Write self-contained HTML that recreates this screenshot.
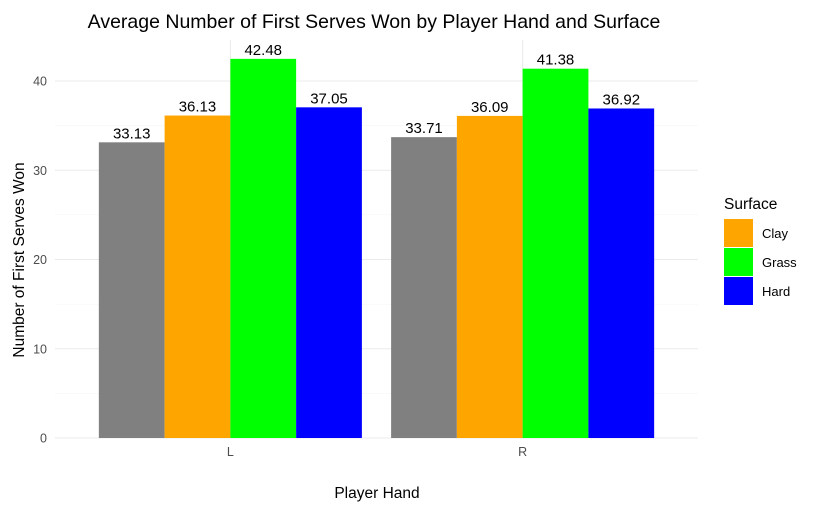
<!DOCTYPE html>
<html><head><meta charset="utf-8"><style>
body{margin:0;background:#fff;font-family:"Liberation Sans",sans-serif}
</style></head><body>
<svg width="822" height="512" xmlns="http://www.w3.org/2000/svg" font-family="Liberation Sans, sans-serif">
<rect width="822" height="512" fill="#fff"/>
<g id="grid"></g><g id="bars"></g><g id="labels"></g><g id="axes"></g>
<text x="374" y="28" font-size="19.5" text-anchor="middle" fill="#000">Average Number of First Serves Won by Player Hand and Surface</text>
<text x="377" y="498" font-size="15.5" text-anchor="middle">Player Hand</text>
<text transform="translate(24,260) rotate(-90)" font-size="15.5" text-anchor="middle">Number of First Serves Won</text>
<g>
<text x="724" y="209" font-size="15.5">Surface</text>
<g><rect x="724" y="219" width="29" height="28" fill="#FFA500"/><text x="762" y="238" font-size="13">Clay</text></g>
<g><rect x="724" y="248" width="29" height="28" fill="#00FF00"/><text x="762" y="267" font-size="13">Grass</text></g>
<g><rect x="724" y="277" width="29" height="28" fill="#0000FF"/><text x="762" y="296" font-size="13">Hard</text></g>
</g>
</svg>
<script>
const categories=["L","R"];
const surfaces=["Other","Clay","Grass","Hard"];
const colors=["#808080","#FFA500","#00FF00","#0000FF"];
const valuesL=[33.13,36.13,42.48,37.05];
const valuesR=[33.71,36.09,41.38,36.92];
const yTicks=[0,10,20,30,40];
const series=[valuesL,valuesR];
const NS="http://www.w3.org/2000/svg";
const left=55,right=698,y0=438,pxPer=8.925,panelTop=40;
const y=v=>y0-v*pxPer;
const step=(right-left)/2.2;
const xc=i=>left+step*(0.6+i);
const bw=step*0.9/4;
function mk(t,a,p){const e=document.createElementNS(NS,t);for(const k in a)e.setAttribute(k,a[k]);p.appendChild(e);return e;}
const g=document.getElementById('grid');
for(let v=5;v<45;v+=10){const l=mk('line',{x1:left,x2:right,y1:y(v),y2:y(v),stroke:'#f3f3f3','stroke-width':0.6},g);

}
yTicks.forEach(v=>{const l=mk('line',{x1:left,x2:right,y1:y(v),y2:y(v),stroke:'#ebebeb','stroke-width':1.1},g);


const t=mk('text',{x:47,y:y(v)+4.5,'font-size':12.5,fill:'#4d4d4d','text-anchor':'end'},document.getElementById('axes'));t.textContent=v;

});
categories.forEach((c,i)=>{const l=mk('line',{x1:xc(i),x2:xc(i),y1:panelTop,y2:y0,stroke:'#ebebeb','stroke-width':1.1},g);


const t=mk('text',{x:xc(i),y:456,'font-size':12.5,fill:'#4d4d4d','text-anchor':'middle'},document.getElementById('axes'));t.textContent=c;


series[i].forEach((v,j)=>{const x=xc(i)-2*bw+j*bw;
const r=mk('rect',{x:x,y:y(v),width:bw,height:y0-y(v),fill:colors[j]},document.getElementById('bars'));


const t=mk('text',{x:x+bw/2,y:y(v)-4,'font-size':15,'text-anchor':'middle',fill:'#000'},document.getElementById('labels'));t.textContent=v.toFixed(2);

});});
</script>
</body></html>
